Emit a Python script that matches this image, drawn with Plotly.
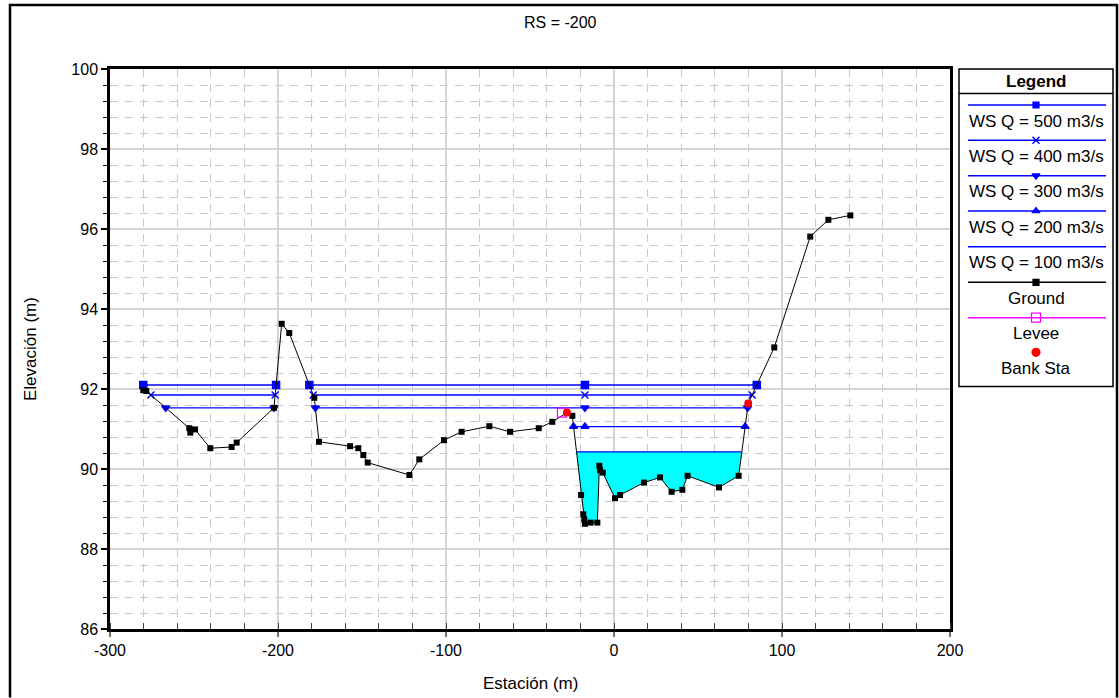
import numpy as np
import plotly.graph_objects as go

# ---------------------------------------------------------------- data
ground_sta = [-280.2, -278.4, -252.8, -252.2, -249.4, -240.3, -227.6, -224.6,
              -202.4, -197.8, -193.3, -178.4, -175.6, -157.1, -152.2, -149.2,
              -146.6, -121.8, -115.9, -101.2, -90.7, -74.2, -61.9, -44.8,
              -36.7, -28.0, -24.8, -19.6, -18.3, -17.7, -17.3, -13.9, -9.9,
              -8.7, -8.3, -6.7, 0.6, 3.6, 17.9, 27.4, 34.3, 40.7, 43.8, 62.5,
              74.2, 79.9, 95.4, 116.8, 127.6, 140.7]
ground_elev = [91.97, 91.95, 91.02, 90.91, 90.99, 90.52, 90.55, 90.66,
               91.53, 93.63, 93.40, 91.78, 90.68, 90.57, 90.52, 90.35,
               90.16, 89.85, 90.24, 90.72, 90.93, 91.07, 90.93, 91.02,
               91.18, 91.41, 91.33, 89.35, 88.87, 88.74, 88.63, 88.66, 88.66,
               90.08, 89.97, 89.91, 89.27, 89.35, 89.66, 89.79, 89.43, 89.48,
               89.83, 89.54, 89.83, 91.64, 93.04, 95.81, 96.23, 96.34]

ws_names = ["WS Q = 500 m3/s", "WS Q = 400 m3/s", "WS Q = 300 m3/s",
            "WS Q = 200 m3/s", "WS Q = 100 m3/s"]
ws_elev = [92.10, 91.85, 91.53, 91.06, 90.43]
ws_symbols = ["square", "x-thin", "triangle-down", "triangle-up", None]

levee_sta, levee_elev = [-31.0], [91.41]
bank_sta, bank_elev = [-28.0, 79.9], [91.41, 91.64]

x_ticks = [-300, -200, -100, 0, 100, 200]
y_ticks = [86, 88, 90, 92, 94, 96, 98, 100]

# ---------------------------------------------------------------- geometry
W, H = 1119, 698
PLOT_L, PLOT_R, PLOT_T, PLOT_B = 110, 950, 69, 629
ML, MR, MT, MB = PLOT_L, 6, PLOT_T, H - PLOT_B
AW, AH = W - ML - MR, H - MT - MB
LEG_L, LEG_T, LEG_R, LEG_B = 959, 69, 1113, 386.5


def X(px):
    return (px - ML) / AW


def Y(py):
    return (H - MB - py) / AH


FONT = "Liberation Sans, Arial, sans-serif"
BLUE = "#0000ff"

gs = np.array(ground_sta)
ge = np.array(ground_elev)
thalweg = gs[np.argmin(ge)]


def wet_spans(ws, lo):
    """Station ranges where the ground lies below the water surface."""
    spans, start = [], None
    keep = gs >= lo
    xs, ys = gs[keep], ge[keep]
    if ys[0] < ws:
        start = xs[0]
    for i in range(len(xs) - 1):
        x0, y0, x1, y1 = xs[i], ys[i], xs[i + 1], ys[i + 1]
        if y0 >= ws and y1 < ws:
            start = x0 + (y0 - ws) / (y0 - y1) * (x1 - x0)
        elif y0 < ws and y1 >= ws:
            end = x0 + (ws - y0) / (y1 - y0) * (x1 - x0)
            spans.append((start, end))
            start = None
    if start is not None:
        spans.append((start, xs[-1]))
    return spans


fig = go.Figure()

# water surface profiles
for name, ws, sym in zip(ws_names, ws_elev, ws_symbols):
    lo = gs[0] if ws >= levee_elev[0] else levee_sta[0]
    spans = wet_spans(ws, lo)
    if sym is None:
        # lowest profile: shaded wetted area
        for a, b in spans:
            inside = (gs > a) & (gs < b)
            px = [a] + list(gs[inside]) + [b]
            py = [ws] + list(ge[inside]) + [ws]
            fig.add_trace(go.Scatter(x=px, y=py, mode="lines", fill="toself",
                                     fillcolor="#00ffff", line=dict(width=0),
                                     hoverinfo="skip", showlegend=False))
    lx, ly, mx = [], [], []
    for a, b in spans:
        lx += [a, b, None]
        ly += [ws, ws, None]
        mx += [a, b]
        if a < thalweg < b:
            mx.append(thalweg)
    fig.add_trace(go.Scatter(x=lx, y=ly, mode="lines", name=name,
                             line=dict(color=BLUE, width=1.3), showlegend=False))
    if sym is not None:
        fig.add_trace(go.Scatter(x=mx, y=[ws] * len(mx), mode="markers", name=name,
                                 marker=dict(symbol=sym, size=7, color=BLUE,
                                             line=dict(color=BLUE, width=1.5)),
                                 showlegend=False))

# ground
fig.add_trace(go.Scatter(x=ground_sta, y=ground_elev, mode="lines+markers",
                         name="Ground", line=dict(color="black", width=1),
                         marker=dict(symbol="square", size=6, color="black"),
                         showlegend=False))
# levee
fig.add_trace(go.Scatter(x=levee_sta, y=levee_elev, mode="markers", name="Levee",
                         marker=dict(symbol="square-open", size=9, color="#ff00ff",
                                     line=dict(width=1.2)),
                         showlegend=False))
# bank stations
fig.add_trace(go.Scatter(x=bank_sta, y=bank_elev, mode="markers", name="Bank Sta",
                         marker=dict(symbol="circle", size=8, color="#ff0000"),
                         showlegend=False))

# ---------------------------------------------------------------- legend panel
leg_cx = (LEG_L + LEG_R) / 2
line_x0, line_x1 = 968, 1106
leg_entries = [
    ("WS Q = 500 m3/s", BLUE, "square", 105.0, 121),
    ("WS Q = 400 m3/s", BLUE, "x-thin", 140.3, 156),
    ("WS Q = 300 m3/s", BLUE, "triangle-down", 175.7, 191),
    ("WS Q = 200 m3/s", BLUE, "triangle-up", 211.0, 227),
    ("WS Q = 100 m3/s", BLUE, None, 246.7, 262),
    ("Ground", "black", "square", 282.3, 298),
    ("Levee", "#ff00ff", "square-open", 317.7, 333),
    ("Bank Sta", "#ff0000", "circle", 352.3, 368),
]
annotations = []
for label, col, sym, yl, yt in leg_entries:
    if label != "Bank Sta":
        fig.add_trace(go.Scatter(x=[line_x0, line_x1], y=[yl, yl], mode="lines",
                                 line=dict(color=col, width=1.5), xaxis="x2", yaxis="y2",
                                 hoverinfo="skip", showlegend=False))
    if sym is not None:
        size = {"square": 6, "x-thin": 7, "triangle-down": 7, "triangle-up": 7,
                "square-open": 9, "circle": 8}[sym]
        fig.add_trace(go.Scatter(x=[leg_cx], y=[yl], mode="markers",
                                 marker=dict(symbol=sym, size=size, color=col,
                                             line=dict(color=col, width=1.5 if sym == "x-thin" else 1.2)),
                                 xaxis="x2", yaxis="y2", hoverinfo="skip", showlegend=False))
    annotations.append(dict(x=X(leg_cx), y=Y(yt), xref="paper", yref="paper", text=label,
                            showarrow=False, xanchor="center", yanchor="middle",
                            font=dict(family=FONT, size=17, color="black")))

annotations.append(dict(x=X(leg_cx), y=Y(81), xref="paper", yref="paper", text="<b>Legend</b>",
                        showarrow=False, xanchor="center", yanchor="middle",
                        font=dict(family=FONT, size=17, color="black")))
annotations.append(dict(x=X(W / 2 + 1), y=Y(22), xref="paper", yref="paper", text="RS = -200",
                        showarrow=False, xanchor="center", yanchor="middle",
                        font=dict(family=FONT, size=16, color="black")))
annotations.append(dict(x=X(30), y=Y(349), xref="paper", yref="paper", text="Elevación (m)",
                        showarrow=False, xanchor="center", yanchor="middle", textangle=-90,
                        font=dict(family=FONT, size=17, color="black")))
annotations.append(dict(x=X(530), y=Y(683), xref="paper", yref="paper", text="Estación (m)",
                        showarrow=False, xanchor="center", yanchor="middle",
                        font=dict(family=FONT, size=17, color="black")))

# outer frame: left, top and right edges, all kept inside the page
frame = dict(color="black", width=2.5)
shapes = [
    dict(type="line", xref="paper", yref="paper", x0=X(10), x1=X(10), y0=Y(H - 0.5), y1=Y(4), line=frame),
    dict(type="line", xref="paper", yref="paper", x0=X(9), x1=X(1117.5), y0=Y(5), y1=Y(5), line=frame),
    dict(type="line", xref="paper", yref="paper", x0=X(1117), x1=X(1117), y0=Y(H - 0.5), y1=Y(4), line=frame),
    # legend box and header rule
    dict(type="rect", xref="paper", yref="paper", x0=X(LEG_L), x1=X(LEG_R), y0=Y(LEG_B), y1=Y(LEG_T),
         line=dict(color="black", width=1.5)),
    dict(type="line", xref="paper", yref="paper", x0=X(LEG_L), x1=X(LEG_R), y0=Y(93.5), y1=Y(93.5),
         line=dict(color="black", width=1.5)),
]

tickfont = dict(family=FONT, size=16, color="black")
fig.update_layout(
    template="none",
    width=W, height=H, autosize=False,
    margin=dict(l=ML, r=MR, t=MT, b=MB, pad=0, autoexpand=False),
    paper_bgcolor="white", plot_bgcolor="white",
    showlegend=False,
    annotations=annotations, shapes=shapes,
    xaxis=dict(domain=[0, X(PLOT_R)], range=[-300, 200], tickmode="array", automargin=False,
               tickvals=x_ticks, ticktext=[str(v) for v in x_ticks], tickfont=tickfont,
               showgrid=True, gridcolor="#d4d4d4", gridwidth=2,
               ticks="outside", ticklen=5, tickcolor="#707070", tickwidth=1.5,
               showline=True, linecolor="black", linewidth=2.5, mirror=True, zeroline=False,
               minor=dict(dtick=20, tick0=-300, showgrid=True, gridcolor="#c8c8c8",
                          griddash="8px,7px", gridwidth=1, ticks="inside", ticklen=6,
                          tickcolor="#404040", tickwidth=1)),
    yaxis=dict(domain=[0, 1], range=[86, 100], tickmode="array", automargin=False,
               tickvals=y_ticks, ticktext=[str(v) for v in y_ticks], tickfont=tickfont,
               showgrid=True, gridcolor="#d4d4d4", gridwidth=2,
               ticks="outside", ticklen=6, tickcolor="black", tickwidth=1.5,
               showline=True, linecolor="black", linewidth=2.5, mirror=True, zeroline=False,
               minor=dict(dtick=0.4, tick0=86, showgrid=True, gridcolor="#c8c8c8",
                          griddash="8px,7px", gridwidth=1, ticks="outside", ticklen=4,
                          tickcolor="black", tickwidth=1)),
    xaxis2=dict(domain=[X(LEG_L), 1], range=[LEG_L, LEG_R], visible=False, automargin=False,
                anchor="y2", fixedrange=True),
    yaxis2=dict(domain=[Y(LEG_B), 1], range=[LEG_B, LEG_T], visible=False, automargin=False,
                anchor="x2", fixedrange=True),
)

fig.write_html("out.html")
